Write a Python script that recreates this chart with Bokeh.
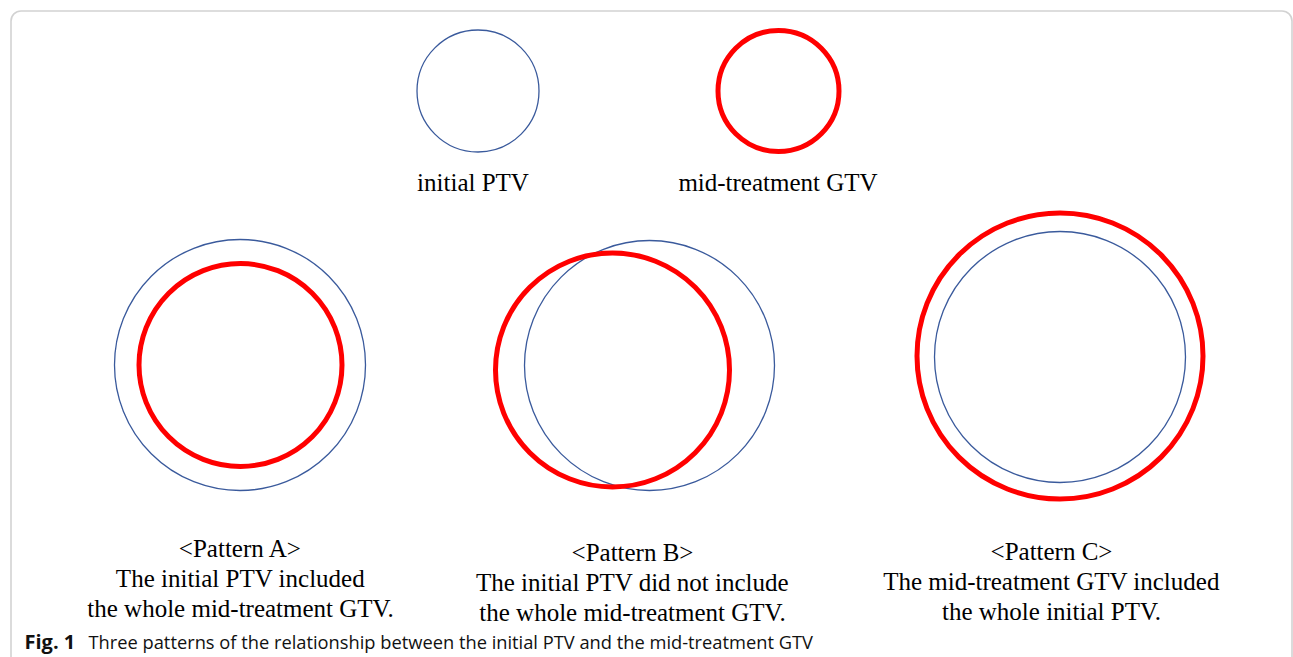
from bokeh.plotting import figure
from bokeh.models import Range1d, BoxAnnotation
from bokeh.core.properties import value
from bokeh.embed import file_html
from bokeh.resources import INLINE

W, H = 1293, 657

# Legend circles
legend_x = [477.5, 778.0]
legend_y = [90.5, 90.5]
legend_r = [61.0, 60.5]
legend_labels = ["initial PTV", "mid-treatment GTV"]
legend_label_x = [472.5, 777.5]
legend_label_y = [182.0, 182.0]

# Initial PTV (blue) per pattern
ptv_x = [239.5, 649.0, 1059.5]
ptv_y = [364.5, 365.0, 356.5]
ptv_r = [125.5, 125.0, 125.5]

# Mid-treatment GTV (red) per pattern
gtv_x = [240.0, 612.0, 1059.5]
gtv_y = [364.5, 369.5, 355.5]
gtv_r = [101.5, 117.0, 143.0]

# Pattern descriptions
pattern_cx = [240.0, 632.0, 1051.0]
pattern_title_y = [548.0, 552.0, 551.0]
pattern_titles = ["<Pattern A>", "<Pattern B>", "<Pattern C>"]
pattern_line1 = ["The initial PTV included", "The initial PTV did not include",
                 "The mid-treatment GTV included"]
pattern_line2 = ["the whole mid-treatment GTV.", "the whole mid-treatment GTV.",
                 "the whole initial PTV."]

caption_bold = "Fig. 1"
caption_text = "Three patterns of the relationship between the initial PTV and the mid-treatment GTV"

BLUE = "#3a5a9c"
RED = "#ff0000"
SERIF = value("Liberation Serif")

p = figure(width=W, height=H, output_backend="svg", toolbar_location=None,
           x_range=Range1d(0, W), y_range=Range1d(H, 0),
           x_axis_type=None, y_axis_type=None, min_border=0)
p.outline_line_color = None
p.grid.visible = False
p.background_fill_color = "white"
p.border_fill_color = "white"

# Rounded frame
p.add_layout(BoxAnnotation(left=10.5, right=1291.5, top=10.5, bottom=800,
                           fill_alpha=0, line_color="#6b6b6b", line_width=1.6,
                           border_radius=10))

# legend
p.circle(x=legend_x[:1], y=legend_y[:1], radius=legend_r[:1], fill_color=None,
         line_color=BLUE, line_width=1.3)
p.circle(x=legend_x[1:], y=legend_y[1:], radius=legend_r[1:], fill_color=None,
         line_color=RED, line_width=5)
p.text(x=legend_label_x, y=legend_label_y, text=legend_labels, text_font=SERIF,
       text_font_size="25px", text_align="center", text_baseline="middle",
       text_color="black")

# pattern circles
p.circle(x=ptv_x, y=ptv_y, radius=ptv_r, fill_color=None, line_color=BLUE, line_width=1.3)
p.circle(x=gtv_x, y=gtv_y, radius=gtv_r, fill_color=None, line_color=RED, line_width=5)

# pattern texts
line_gap = 30.0
p.text(x=pattern_cx, y=pattern_title_y, text=pattern_titles, text_font=SERIF,
       text_font_size="25px", text_align="center", text_baseline="middle", text_color="black")
p.text(x=pattern_cx, y=[v + line_gap for v in pattern_title_y], text=pattern_line1, text_font=SERIF,
       text_font_size="25px", text_align="center", text_baseline="middle", text_color="black")
p.text(x=pattern_cx, y=[v + 2 * line_gap for v in pattern_title_y], text=pattern_line2, text_font=SERIF,
       text_font_size="25px", text_align="center", text_baseline="middle", text_color="black")

# caption
p.text(x=[24], y=[641], text=[caption_bold], text_font=value("Open Sans"), text_font_style="bold",
       text_font_size="20px", text_align="left", text_baseline="middle", text_color="#111111")
p.text(x=[88], y=[641], text=[caption_text], text_font=value("Open Sans"),
       text_font_size="18.3px", text_align="left", text_baseline="middle", text_color="#111111")

open("out.html", "w").write(file_html(p, INLINE))
